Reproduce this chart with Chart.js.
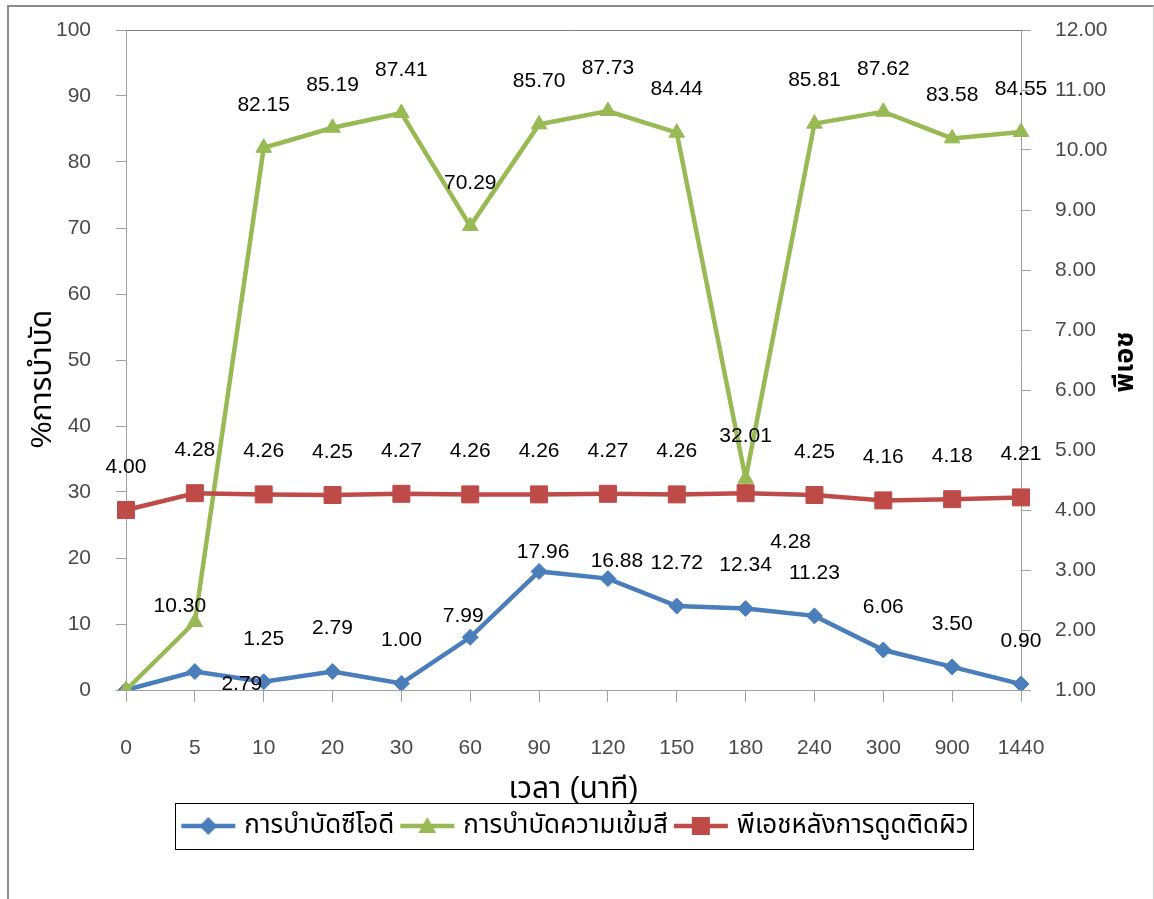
<!DOCTYPE html>
<html>
<head>
<meta charset="utf-8">
<script src="https://cdn.jsdelivr.net/npm/chart.js@4.4.0/dist/chart.umd.min.js"></script>
<style>
    html, body { margin: 0; padding: 0; background: #fff; }
    #wrap { position: relative; width: 1154px; height: 899px; overflow: hidden; }
    #frame {
        position: absolute; left: 7px; top: 5px; width: 1147px; height: 910px;
        border-left: 2px solid #8c8c8c; border-top: 2px solid #8c8c8c; border-right: 1px solid #d0d0d0;
        box-sizing: border-box; pointer-events: none;
    }
</style>
</head>
<body>
<div id="wrap">
    <canvas id="treatChart" width="1154" height="899"></canvas>
    <div id="frame"></div>
</div>
<script>
// ----- data -----
const times = ['0', '5', '10', '20', '30', '60', '90', '120', '150', '180', '240', '300', '900', '1440'];
const codRemoval = [0, 2.79, 1.25, 2.79, 1.00, 7.99, 17.96, 16.88, 12.72, 12.34, 11.23, 6.06, 3.50, 0.90];
const colorRemoval = [0, 10.30, 82.15, 85.19, 87.41, 70.29, 85.70, 87.73, 84.44, 32.01, 85.81, 87.62, 83.58, 84.55];
const phAfter = [4.00, 4.28, 4.26, 4.25, 4.27, 4.26, 4.26, 4.27, 4.26, 4.28, 4.25, 4.16, 4.18, 4.21];
const seriesNames = ['การบำบัดซีโอดี', 'การบำบัดความเข้มสี', 'พีเอชหลังการดูดติดผิว'];

const FONT = "'Liberation Sans', Arial, 'Noto Sans Thai', 'Noto Sans', sans-serif";
const BLUE = '#4a7ebb', GREEN = '#98b954', RED = '#be4b48';

// label nudges (dx, dy from the point), default is straight above; null = no label
const labelShift = {
    0: { 0: null, 1: [47, 13], 5: [-7, -21], 6: [4, -19], 7: [9, -17] },
    1: { 0: null, 1: [-15, -16] },
    2: { 9: [45, 49] }
};

// small canvas used as legend icon: line with the marker in the middle
function legendIcon(color, shape) {
    const c = document.createElement('canvas');
    c.width = 56; c.height = 22;
    const g = c.getContext('2d');
    g.strokeStyle = color; g.fillStyle = color; g.lineWidth = 4.5;
    g.beginPath(); g.moveTo(1, 11); g.lineTo(55, 11); g.stroke();
    g.beginPath();
    if (shape === 'diamond') {
        g.moveTo(28, 2); g.lineTo(37, 11); g.lineTo(28, 20); g.lineTo(19, 11);
    } else if (shape === 'triangle') {
        g.moveTo(28, 2); g.lineTo(37, 18); g.lineTo(19, 18);
    } else {
        g.rect(19, 2, 18, 18);
    }
    g.closePath(); g.fill();
    return c;
}
const icons = [legendIcon(BLUE, 'diamond'), legendIcon(GREEN, 'triangle'), legendIcon(RED, 'square')];

const extrasPlugin = {
    id: 'extras',
    beforeDatasetsDraw(chart) {
        // plot frame top line
        const {ctx, chartArea} = chart;
        ctx.save();
        ctx.strokeStyle = '#808080';
        ctx.lineWidth = 1;
        ctx.beginPath();
        ctx.moveTo(chartArea.left, chartArea.top + 0.5);
        ctx.lineTo(chartArea.right, chartArea.top + 0.5);
        ctx.stroke();
        ctx.restore();
    },
    afterDatasetsDraw(chart) {
        // value labels
        const ctx = chart.ctx;
        ctx.save();
        ctx.font = '21px ' + FONT;
        ctx.fillStyle = '#000';
        ctx.textAlign = 'center';
        ctx.textBaseline = 'middle';
        chart.data.datasets.forEach((ds, di) => {
            const meta = chart.getDatasetMeta(di);
            meta.data.forEach((pt, i) => {
                const shift = labelShift[di] && (i in labelShift[di]) ? labelShift[di][i] : [0, -43];
                if (!shift) return;
                ctx.fillText(ds.data[i].toFixed(2), pt.x + shift[0], pt.y + shift[1]);
            });
        });
        ctx.restore();
    },
    afterDraw(chart) {
        const ctx = chart.ctx;
        // y axis titles (both read bottom to top)
        ctx.save();
        ctx.font = '30px ' + FONT;
        ctx.fillStyle = '#000';
        ctx.textAlign = 'center';
        ctx.textBaseline = 'middle';
        ctx.translate(43, 379);
        ctx.rotate(-Math.PI / 2);
        ctx.fillText('%การบำบัด', 0, 0);
        ctx.restore();

        ctx.save();
        ctx.font = 'bold 27px ' + FONT;
        ctx.fillStyle = '#000';
        ctx.textAlign = 'center';
        ctx.textBaseline = 'middle';
        ctx.translate(1126, 362);
        ctx.rotate(-Math.PI / 2);
        ctx.fillText('พีเอช', 0, 0);
        ctx.restore();

        // legend box
        const lg = chart.legend;
        if (lg && lg.legendHitBoxes.length) {
            const boxes = lg.legendHitBoxes;
            const left = Math.min(...boxes.map(b => b.left)) - 10;
            const right = Math.max(...boxes.map(b => b.left + b.width)) + 5;
            ctx.save();
            ctx.strokeStyle = '#000';
            ctx.lineWidth = 1;
            ctx.strokeRect(Math.round(left) + 0.5, Math.round(lg.top) + 0.5, Math.round(right - left), Math.round(lg.bottom - lg.top));
            ctx.restore();
        }
    }
};

const tickFont = { family: FONT, size: 21 };
const tickColor = '#4a4a4a';

// keep the tick-label padding from pushing the plot area around
function noEdgePadding(s) {
    s.paddingTop = 0; s.paddingBottom = 0; s.paddingLeft = 0; s.paddingRight = 0;
}

const ctx = document.getElementById('treatChart').getContext('2d');
new Chart(ctx, {
    type: 'line',
    data: {
        labels: times,
        datasets: [
            {
                label: seriesNames[0], data: codRemoval, yAxisID: 'y', order: 3,
                borderColor: BLUE, backgroundColor: BLUE, borderWidth: 4.5,
                pointStyle: 'rectRot', pointRadius: 8, pointBorderWidth: 1,
                pointBackgroundColor: BLUE, pointBorderColor: BLUE
            },
            {
                label: seriesNames[1], data: colorRemoval, yAxisID: 'y', order: 2,
                borderColor: GREEN, backgroundColor: GREEN, borderWidth: 4.5,
                pointStyle: 'triangle', pointRadius: 9, pointBorderWidth: 1,
                pointBackgroundColor: GREEN, pointBorderColor: GREEN
            },
            {
                label: seriesNames[2], data: phAfter, yAxisID: 'y1', order: 1,
                borderColor: RED, backgroundColor: RED, borderWidth: 4.5,
                pointStyle: 'rect', pointRadius: 12, pointBorderWidth: 1,
                pointBackgroundColor: RED, pointBorderColor: RED
            }
        ]
    },
    options: {
        responsive: false,
        animation: false,
        events: [],
        layout: { padding: { top: 30, bottom: 50, left: 0, right: 0 } },
        elements: { line: { tension: 0 } },
        scales: {
            x: {
                offset: false,
                grid: { drawOnChartArea: false, drawTicks: true, tickLength: 12, color: '#a0a0a0' },
                border: { color: '#a0a0a0' },
                ticks: { font: tickFont, color: tickColor, padding: 34, maxRotation: 0, autoSkip: false },
                title: { display: true, text: 'เวลา (นาที)', font: { family: FONT, size: 30, lineHeight: 0.9 }, color: '#000', padding: { top: 0, bottom: 0 } },
                afterFit(s) { s.height = 113; noEdgePadding(s); }
            },
            y: {
                position: 'left', min: 0, max: 100,
                grid: { drawOnChartArea: false, tickLength: 10, color: '#a0a0a0' },
                border: { color: '#a0a0a0' },
                ticks: { stepSize: 10, font: tickFont, color: tickColor, padding: 25 },
                afterFit(s) { s.width = 126; noEdgePadding(s); }
            },
            y1: {
                position: 'right', min: 1, max: 12,
                grid: { drawOnChartArea: false, tickLength: 10, color: '#a0a0a0' },
                border: { color: '#a0a0a0' },
                ticks: { stepSize: 1, font: tickFont, color: tickColor, padding: 24, callback: v => v.toFixed(2) },
                afterFit(s) { s.width = 133; noEdgePadding(s); }
            }
        },
        plugins: {
            tooltip: { enabled: false },
            legend: {
                position: 'bottom',
                labels: {
                    font: { family: FONT, size: 26 },
                    color: '#000',
                    padding: 10,
                    usePointStyle: true,
                    pointStyleWidth: 46,
                    sort: (a, b) => a.datasetIndex - b.datasetIndex,
                    generateLabels(chart) {
                        return chart.data.datasets.map((ds, i) => ({
                            text: ds.label, datasetIndex: i, pointStyle: icons[i],
                            fillStyle: ds.borderColor, strokeStyle: ds.borderColor, lineWidth: 0, hidden: false
                        }));
                    }
                }
            }
        }
    },
    plugins: [extrasPlugin]
});
</script>
</body>
</html>
